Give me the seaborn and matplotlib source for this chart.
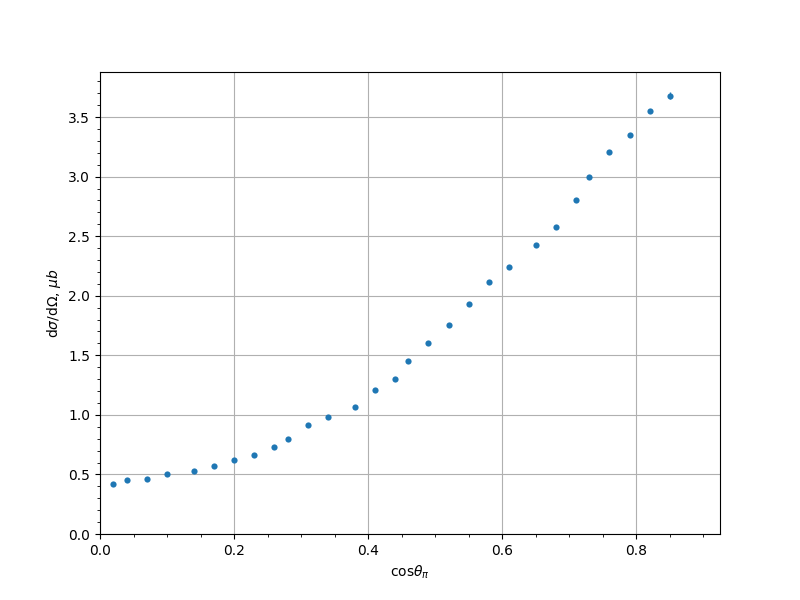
import matplotlib
matplotlib.use("Agg")
import matplotlib.pyplot as plt
import seaborn as sns
import numpy as np
import pandas as pd

cos_theta = [0.02, 0.04, 0.07, 0.10, 0.14, 0.17, 0.20, 0.23, 0.26, 0.28,
             0.31, 0.34, 0.38, 0.41, 0.44, 0.46, 0.49, 0.52, 0.55, 0.58,
             0.61, 0.65, 0.68, 0.71, 0.73, 0.76, 0.79, 0.82, 0.85]
dsigma = [0.42, 0.45, 0.46, 0.50, 0.53, 0.57, 0.62, 0.66, 0.73, 0.80,
          0.915, 0.98, 1.065, 1.21, 1.30, 1.45, 1.60, 1.755, 1.93, 2.115,
          2.24, 2.425, 2.577, 2.80, 3.00, 3.205, 3.35, 3.55, 3.68]
errors = [0.01, 0.01, 0.01, 0.01, 0.01, 0.01, 0.01, 0.01, 0.01, 0.01,
          0.01, 0.01, 0.01, 0.01, 0.01, 0.01, 0.01, 0.01, 0.015, 0.015,
          0.015, 0.015, 0.015, 0.015, 0.015, 0.015, 0.015, 0.02, 0.03]

df = pd.DataFrame({"x": cos_theta, "y": dsigma, "err": errors})

fig, ax = plt.subplots(figsize=(8, 6), dpi=100)
ax.errorbar(df["x"], df["y"], yerr=df["err"], fmt="none", ecolor="#1f77b4", elinewidth=1)
sns.scatterplot(data=df, x="x", y="y", ax=ax, color="#1f77b4", s=20, linewidth=0, zorder=3)

ax.set_xlim(0, 0.925)
ax.set_ylim(0, 3.878)
ax.set_xticks([0.0, 0.2, 0.4, 0.6, 0.8])
ax.set_yticks([0.0, 0.5, 1.0, 1.5, 2.0, 2.5, 3.0, 3.5])
ax.minorticks_on()
ax.grid(True, which="major", color="#b0b0b0", linewidth=0.8)
ax.set_axisbelow(True)
ax.set_xlabel(r"cos$\theta_\pi$")
ax.set_ylabel(r"d$\sigma$/d$\Omega$, $\mu b$")

fig.savefig("out.png", dpi=100)
